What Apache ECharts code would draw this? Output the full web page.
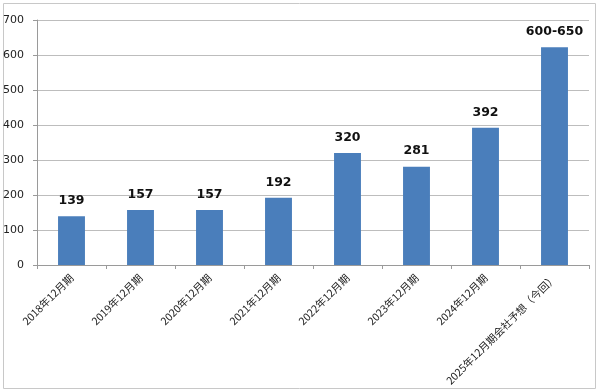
<!DOCTYPE html>
<html><head><meta charset="utf-8">
<script src="https://cdn.jsdelivr.net/npm/echarts@6/dist/echarts.min.js"></script>
<style>html,body{margin:0;padding:0;background:#fff}#c{width:600px;height:392px}</style>
</head><body><div id="c"></div>
<script>
const categories = ['2018年12月期','2019年12月期','2020年12月期','2021年12月期','2022年12月期','2023年12月期','2024年12月期','2025年12月期会社予想（今回）'];
const values = [139,157,157,192,320,281,392,622];
const valueLabels = ['139','157','157','192','320','281','392','600-650'];
const yTicks = [0,100,200,300,400,500,600,700];

const chart = echarts.init(document.getElementById('c'));
chart.setOption({
  animation:false,
  graphic:[{type:'rect',shape:{x:3.5,y:3.5,width:592,height:385},style:{fill:'none',stroke:'#c8c8c8',lineWidth:1},silent:true}],
  grid:{left:37,right:11,top:20,bottom:127},
  xAxis:{type:'category',data:categories,
    axisLine:{lineStyle:{color:'#9a9a9a'}},
    axisTick:{show:true,length:4,lineStyle:{color:'#9a9a9a'}},
    axisLabel:{rotate:45,fontSize:10.5,color:'#222',margin:11,interval:0,fontFamily:'"Noto Sans CJK JP", sans-serif'}},
  yAxis:{type:'value',min:0,max:700,interval:100,
    axisLine:{show:true,lineStyle:{color:'#9a9a9a'}},
    axisTick:{show:true,length:4,lineStyle:{color:'#9a9a9a'}},
    splitLine:{lineStyle:{color:'#bdbdbd'}},
    axisLabel:{fontSize:11,color:'#222',margin:13,fontFamily:'"DejaVu Sans", sans-serif',
      formatter:v=>yTicks.includes(v)?String(v):''}},
  series:[{type:'bar',data:values,barWidth:'39%',
    itemStyle:{color:'#4a7ebb'},
    label:{show:true,position:'top',distance:9,fontSize:12.5,fontWeight:'bold',color:'#111',
      fontFamily:'"DejaVu Sans", sans-serif',
      formatter:p=>valueLabels[p.dataIndex]}}]
});
</script></body></html>
